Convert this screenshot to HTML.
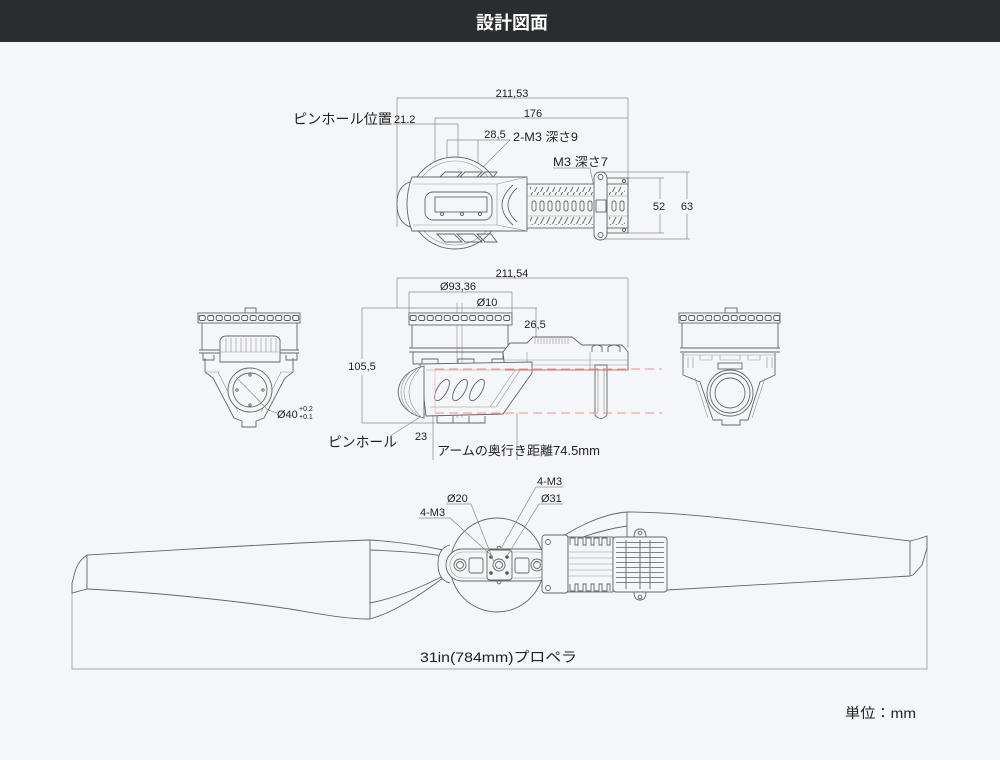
<!DOCTYPE html>
<html><head><meta charset="utf-8">
<style>
html,body{margin:0;padding:0;background:#f5f6f9;}
svg{display:block;}
text{font-family:"Liberation Sans","Noto Sans CJK JP",sans-serif;fill:#222;}
.n{font-size:11px;}
.o{fill:none;stroke:#666;stroke-width:0.9;}
.ob{fill:#f5f6f9;stroke:#666;stroke-width:0.9;}
.t{fill:none;stroke:#949494;stroke-width:0.6;}
.d{fill:none;stroke:#8c8c8c;stroke-width:0.7;}
.r{fill:none;stroke:#ee8f8f;stroke-width:1;stroke-dasharray:9 5;}
</style></head><body>
<svg width="1000" height="760" viewBox="0 0 1000 760" xmlns="http://www.w3.org/2000/svg">
<defs>
<pattern id="slots" patternUnits="userSpaceOnUse" x="0" y="0" width="8.5" height="10">
<rect x="1.2" y="2.5" width="6" height="5" rx="1.5" fill="none" stroke="#555" stroke-width="0.9"/>
</pattern>
<pattern id="hatch" patternUnits="userSpaceOnUse" x="0" y="0" width="6" height="8">
<path d="M0.5,8 L4.5,0" stroke="#666" stroke-width="0.9" fill="none"/>
</pattern>
<pattern id="hl" patternUnits="userSpaceOnUse" x="0" y="0" width="4" height="5">
<path d="M0,2.5 H4" stroke="#666" stroke-width="0.8"/>
</pattern>
</defs>
<rect width="1000" height="760" fill="#f5f6f9"/>
<rect width="1000" height="42" fill="#2b2c30"/>
<text x="512" y="29" font-size="18" font-weight="bold" text-anchor="middle" style="fill:#fff">設計図面</text>

<!-- ================= TOP VIEW ================= -->
<path class="d" d="M397,98H628 M397,98V227 M628,98V183 M435,118H628 M435,118V198 M393,124H458V198 M447,140H510 L443,207 M447,140V207 M478,140V204 M553,168H590 L598,207 M628,178H664 M628,233H664 M660,178V199 M660,214V233 M600,172H690 M600,239H690 M687,172V199 M687,214V239"/>
<text x="512" y="97" class="n" text-anchor="middle">211,53</text>
<text x="533" y="117" class="n" text-anchor="middle">176</text>
<text x="293" y="124" font-size="14" textLength="99" lengthAdjust="spacingAndGlyphs">ピンホール位置</text>
<text x="394" y="123" class="n">21.2</text>
<text x="495" y="138" class="n" text-anchor="middle">28,5</text>
<text x="513" y="141" font-size="12" textLength="65" lengthAdjust="spacingAndGlyphs">2-M3 深さ9</text>
<text x="553" y="166" font-size="12" textLength="55" lengthAdjust="spacingAndGlyphs">M3 深さ7</text>
<text x="659" y="210" class="n" text-anchor="middle">52</text>
<text x="687" y="210" class="n" text-anchor="middle">63</text>

<circle cx="455" cy="203" r="46" class="ob"/>
<circle cx="455" cy="203" r="42" class="t"/>
<path class="o" d="M437,180 L445,172 L462,172 L454,180Z M457,180 L465,172 L482,172 L474,180Z M477,180 L485,172 L497,172 L491,180Z"/>
<path class="o" d="M437,234 L445,242 L462,242 L454,234Z M457,234 L465,242 L482,242 L474,234Z M477,234 L485,242 L497,242 L491,234Z"/>
<path class="ob" d="M410,182 Q397,186 397,204 Q397,222 410,227Z"/>
<path class="ob" d="M412,177 H527 V231 H412 Q402,204 412,177Z"/>
<path class="t" d="M413,184 H497 L527,177 M413,225 H497 L527,231 M497,184 V225"/>
<rect x="425" y="192" width="67" height="28" rx="8" class="o"/>
<rect x="435" y="197" width="52" height="15" class="o"/>
<circle cx="442" cy="214" r="1.5" class="o"/><circle cx="462" cy="214" r="1.5" class="o"/><circle cx="480" cy="214" r="1.5" class="o"/>
<path class="o" d="M513,185 Q491,205 513,225 M517,188 Q499,205 517,222"/>
<rect x="527" y="184" width="101" height="44" class="ob"/>
<path class="t" d="M527,196 H628 M527,216 H628"/>
<rect x="530" y="187" width="64" height="8" fill="url(#hatch)"/>
<rect x="530" y="217" width="64" height="8" fill="url(#hatch)"/>
<rect x="609" y="187" width="16" height="8" fill="url(#hatch)"/>
<rect x="609" y="217" width="16" height="8" fill="url(#hatch)"/>
<g class="o">
<rect x="532" y="201" width="4" height="10" rx="2"/><rect x="540" y="201" width="4" height="10" rx="2"/><rect x="548" y="201" width="4" height="10" rx="2"/><rect x="556" y="201" width="4" height="10" rx="2"/><rect x="564" y="201" width="4" height="10" rx="2"/><rect x="572" y="201" width="4" height="10" rx="2"/><rect x="580" y="201" width="4" height="10" rx="2"/><rect x="588" y="201" width="4" height="10" rx="2"/><rect x="612" y="201" width="4" height="10" rx="2"/><rect x="620" y="201" width="4" height="10" rx="2"/>
</g>
<rect x="607" y="178" width="21" height="55" class="o"/>
<circle cx="624" cy="181" r="1.5" class="o"/><circle cx="624" cy="230" r="1.5" class="o"/>
<rect x="594" y="172" width="13" height="68" rx="6" class="ob"/>
<circle cx="600.5" cy="177" r="2.5" class="o"/><circle cx="600.5" cy="235" r="2.5" class="o"/>
<rect x="596" y="200" width="10" height="12" class="o"/>

<!-- ================= SIDE VIEW ================= -->
<path class="d" d="M397,278H628 M397,278V308 M628,278V348 M409,292H512 M409,292V313 M512,292V313 M362,308H537 M536,308V339 M362,308V359 M362,375V423 M362,423H435 M433,413V460 M517,413V460 M390,436 L425,414"/>
<path class="t" d="M457,303V418 M462,303V418"/>
<text x="512" y="277" class="n" text-anchor="middle">211,54</text>
<text x="458" y="290" class="n" text-anchor="middle">Ø93,36</text>
<text x="487" y="306" class="n" text-anchor="middle">Ø10</text>
<text x="535" y="328" class="n" text-anchor="middle">26,5</text>
<text x="362" y="370" class="n" text-anchor="middle">105,5</text>
<text x="421" y="440" class="n" text-anchor="middle">23</text>
<text x="328" y="447" font-size="14" textLength="69" lengthAdjust="spacingAndGlyphs">ピンホール</text>
<text x="437" y="455" font-size="12.5" textLength="163" lengthAdjust="spacingAndGlyphs">アームの奥行き距離74.5mm</text>

<g transform="translate(409,313)"><rect width="103" height="12" class="ob"/><rect width="103" height="12" fill="url(#slots)"/></g>
<path class="o" d="M412,325V348 M508,325V348 M409,348H511 M409,352H511 M413,352 V364 H422 V359 H438 V364 H458 V359 H474 V364 H492 V359 H503 V352"/>
<path class="ob" d="M503,352 L510,343 L527,343 L533,337 L572,337 L582,345 L622,345 L628,352 L628,370 L505,370 Z"/>
<path class="t" d="M535,338V344 M538,338V344 M541,338V344 M544,338V344 M547,338V344 M550,338V344 M553,338V344 M556,338V344 M559,338V344 M562,338V344 M565,338V344 M568,338V344 M505,360H628 M505,365H628 M527,352V370 M590,352V370"/>
<path class="o" d="M592,352 V347 Q597,343 602,347 V352 M608,352 V347 Q614,343 620,347 V352"/>
<path class="ob" d="M420,364 L532,362 L532,373 L503,414 L426,416 Z"/>
<path class="t" d="M426,370 H520 L496,407 H430 M515,370 L490,407"/>
<path class="ob" d="M424,366 Q400,372 398,392 Q400,412 424,418 Z"/>
<path class="t" d="M418,368 Q404,380 404,392 Q404,405 418,416 M412,370 Q401,381 401,392 Q401,404 412,414 M421,367 Q409,380 409,392 Q409,405 421,417"/>
<path class="o" d="M437,416 V423 H485 V416 M453,416V423 M469,416V423"/>
<ellipse cx="442" cy="390" rx="5" ry="12" transform="rotate(30 442 390)" class="o"/>
<ellipse cx="460" cy="390" rx="5" ry="12" transform="rotate(30 460 390)" class="o"/>
<ellipse cx="477" cy="390" rx="5" ry="12" transform="rotate(30 477 390)" class="o"/>
<path class="ob" d="M595,365 V415 Q601,422 607,415 V365 Z"/>
<path class="t" d="M598,368V412 M604,368V412"/>
<path class="r" d="M435,369 H662 M435,413 H662"/>
<path d="M505,370 H628" stroke="#c97070" stroke-width="0.9"/>
<path d="M435,369 V413" stroke="#f0b0b0" stroke-width="0.7"/>

<!-- ================= LEFT VIEW ================= -->
<rect x="245" y="308" width="11" height="5" class="o"/>
<g transform="translate(198,313)"><rect width="102" height="10" class="ob"/><rect width="102" height="10" fill="url(#slots)"/></g>
<path class="o" d="M202,323V350 M297,323V350 M199,350H299 M199,353H299"/>
<path class="ob" d="M220,362 V340 Q222,336 226,336 H274 Q278,336 280,340 V362 Z"/>
<path class="t" d="M226,338V352 M231,338V352 M236,338V352 M241,338V352 M246,338V352 M251,338V352 M256,338V352 M261,338V352 M266,338V352 M271,338V352 M276,338V352 M220,352H280"/>
<path class="o" d="M203,353 V360 H214 V355 M297,353 V360 H286 V355"/>
<path class="o" d="M205,358 V372 L213,378 L234,418 L242,421 V427 H256 V421 L264,418 L285,378 L293,372 V358"/>
<path class="t" d="M218,372 L238,412 M281,372 L261,412 M205,372H220 M293,372H280"/>
<circle cx="250" cy="390" r="22" class="ob"/>
<circle cx="250" cy="390" r="17" class="o"/>
<circle cx="250" cy="375" r="1.2" class="o"/><circle cx="250" cy="405" r="1.2" class="o"/><circle cx="237" cy="390" r="1.2" class="o"/><circle cx="263" cy="390" r="1.2" class="o"/>
<path class="d" d="M236,377 L268,410 L277,413"/>
<text x="277" y="418" class="n">Ø40</text>
<text x="299" y="411" font-size="7">+0.2</text>
<text x="299" y="419" font-size="7">+0.1</text>

<!-- ================= RIGHT VIEW ================= -->
<rect x="725" y="308" width="12" height="5" class="o"/>
<g transform="translate(679,313)"><rect width="101" height="10" class="ob"/><rect width="101" height="10" fill="url(#slots)"/></g>
<path class="o" d="M682,323V348 M778,323V348 M680,348H780 M680,352H780"/>
<path class="o" d="M683,353 V375 L700,382 L713,420 L722,420 V425 H740 V420 L748,420 L760,382 L775,375 V353"/>
<path class="t" d="M683,355H775 M688,357V368 M693,357V368 M767,357V368 M772,357V368 M700,355V360 H712 V355 M720,355V360 H740 V355 M748,355V360 H760 V355 M695,378 L708,418 M765,378 L752,418"/>
<rect x="718" y="363" width="24" height="6" class="o"/>
<circle cx="730" cy="393" r="23" class="ob"/>
<circle cx="730" cy="393" r="20" class="o"/>
<circle cx="730" cy="393" r="15" class="o"/>

<!-- ================= PROPELLER ================= -->
<path class="d" d="M72,593 V669 H927 V537"/>
<text x="420" y="662" font-size="14" textLength="157" lengthAdjust="spacingAndGlyphs">31in(784mm)プロペラ</text>
<path class="o" d="M87,555 C180,550 280,543 370,540 M87,589 C150,592 230,600 290,609 C320,614 345,619 370,619 M87,555 Q78,561 75,572 L72,583 L72,593 L87,589 M87,555 V589 M370,540 V619"/>
<path class="o" d="M370,540 C400,542 425,546 443,550 M370,550 C400,551 425,553 443,556 M370,619 C395,612 420,595 443,578 M370,603 C395,598 420,588 443,576"/>
<path class="o" d="M547,547 C570,530 600,514 627,512 C700,512 800,528 910,541 M547,553 C570,540 600,530 627,526 M547,580 C570,588 600,593 667,590 L910,576 M627,512 V545 M910,541 L918,539 L927,536 L927,548 L922,565 L913,575 L910,576 M910,541 V576"/>
<circle cx="497" cy="565" r="47" class="ob"/>
<path class="ob" d="M450,545 Q438,548 438,564 Q438,580 450,583"/>
<rect x="446" y="549" width="107" height="32" rx="16" class="ob"/>
<rect x="450" y="552" width="99" height="26" rx="13" class="t"/>
<circle cx="460" cy="565" r="6" class="o"/><circle cx="460" cy="565" r="3.5" class="o"/>
<circle cx="537" cy="565" r="6" class="o"/><circle cx="537" cy="565" r="3.5" class="o"/>
<rect x="469" y="558" width="14" height="15" rx="2" class="o"/>
<rect x="515" y="558" width="14" height="15" rx="2" class="o"/>
<rect x="487" y="550" width="25" height="30" rx="3" class="ob"/>
<circle cx="499" cy="565" r="6" class="o"/><circle cx="499" cy="565" r="3.5" class="o"/>
<g fill="#555"><circle cx="491" cy="557" r="1.8"/><circle cx="507" cy="557" r="1.8"/><circle cx="491" cy="573" r="1.8"/><circle cx="507" cy="573" r="1.8"/></g>
<circle cx="499" cy="548" r="1.8" class="o"/><circle cx="499" cy="582" r="1.8" class="o"/>
<rect x="542" y="535" width="26" height="58" rx="3" class="ob"/>
<circle cx="548" cy="542" r="2.5" class="o"/><circle cx="548" cy="588" r="2.5" class="o"/>
<rect x="568" y="537" width="45" height="55" class="ob"/>
<path class="o" d="M570,545 V538 H575 V545 H578 V538 H583 V545 H586 V538 H591 V545 H594 V538 H599 V545 H602 V538 H607 V545 H610 V538 M570,584 V591 H575 V584 H578 V591 H583 V584 H586 V591 H591 V584 H594 V591 H599 V584 H602 V591 H607 V584 H610 V591"/>
<path class="t" d="M568,552H613 M568,558H613 M568,564H613 M568,570H613 M568,576H613"/>
<path class="ob" d="M634,537 Q634,529 640,529 Q646,529 646,537 Z M634,592 Q634,600 640,600 Q646,600 646,592 Z"/>
<circle cx="640" cy="533" r="1.8" class="o"/><circle cx="640" cy="597" r="1.8" class="o"/>
<rect x="613" y="537" width="54" height="55" rx="3" class="ob"/>
<rect x="616" y="542" width="48" height="45" fill="url(#hl)"/>
<path class="o" d="M626,540V589 M640,540V589 M650,540V589"/>
<path class="d" d="M419,518H450 L492,556 M446,504H471 L494,562 M536,487H563 M536,487 L500,550 M539,504H563 M539,504 L507,556"/>
<text x="420" y="516" class="n">4-M3</text>
<text x="447" y="502" class="n">Ø20</text>
<text x="537" y="485" class="n">4-M3</text>
<text x="541" y="502" class="n">Ø31</text>

<text x="845" y="718" font-size="14" textLength="71" lengthAdjust="spacingAndGlyphs">単位：mm</text>
</svg>
</body></html>
